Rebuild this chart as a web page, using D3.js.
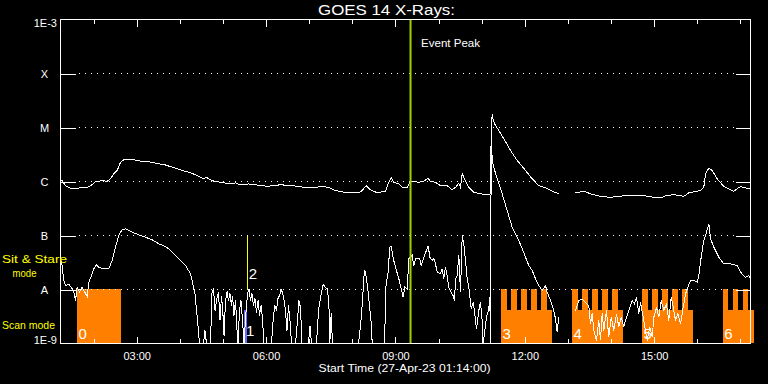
<!DOCTYPE html>
<html><head><meta charset="utf-8">
<script src="https://cdn.jsdelivr.net/npm/d3@7"></script>
<style>
html,body{margin:0;padding:0;background:#000;}
svg{display:block;}
text{font-family:"Liberation Sans",Arial,sans-serif;}
</style></head><body>
<svg id="chart" width="768" height="384"></svg>
<script>
// ---------------- data ----------------
const chartTitle = "GOES 14 X-Rays:";
const xAxisTitle = "Start Time (27-Apr-23 01:14:00)";
const startTime = "2023-04-27T01:14:00Z";
const durationMin = 960;
const levelValues = [1e-9, 1e-8, 1e-7, 1e-6, 1e-5, 1e-4, 1e-3];
const levelLabels = ["1E-9", "A", "B", "C", "M", "X", "1E-3"];
const tickLabels = ["03:00", "06:00", "09:00", "12:00", "15:00"];
const eventPeakMin = 487;
const eventLabel = "Event Peak";

// long channel (1-8 A): [minutes after start, W/m^2]; null = data gap
const longChannel = [
[1.4,1.07e-6],[7.0,8.4e-7],[13.9,7.5e-7],[20.9,7.3e-7],[25.5,7.6e-7],[37.1,7.8e-7],[41.7,8.3e-7],[48.7,9.9e-7],[58.0,1.04e-6],[65.0,1.01e-6],
[69.6,1.12e-6],[74.2,1.39e-6],[78.9,1.6e-6],[83.5,2.28e-6],[88.1,2.52e-6],[102.0,2.52e-6],[113.7,2.35e-6],[127.6,2.28e-6],[134.5,2.13e-6],[143.7,2.07e-6],
[155.4,1.84e-6],[169.3,1.6e-6],[180.9,1.45e-6],[190.2,1.29e-6],[197.1,1.15e-6],[204.1,1.17e-6],[211.1,1.04e-6],[215.7,9.9e-7],[225.0,9.7e-7],[234.2,9.0e-7],
[243.5,9.4e-7],[248.1,8.8e-7],[262.0,9.0e-7],[271.3,8.7e-7],[280.6,8.3e-7],[289.8,8.2e-7],[296.8,8.4e-7],[306.1,8.7e-7],[320.0,8.4e-7],[329.3,8.2e-7],
[338.5,7.8e-7],[352.4,7.6e-7],[364.1,8.2e-7],[373.3,7.7e-7],[382.6,6.8e-7],[398.9,6.2e-7],[415.0,6.2e-7],[419.8,6.8e-7],[425.3,8.4e-7],[431.3,7.0e-7],
[440.6,6.2e-7],[452.2,6.6e-7],[455.4,8.8e-7],[460.1,1.17e-6],[463.7,9.7e-7],[470.7,9.0e-7],[475.4,7.8e-7],[482.4,7.8e-7],[486.0,9.7e-7],[491.5,1.0e-6],
[498.5,9.7e-7],[505.5,1.01e-6],[511.0,1.15e-6],[514.8,1.01e-6],[521.7,9.7e-7],[528.7,8.4e-7],[538.0,8.4e-7],[545.0,7.0e-7],[549.6,7.8e-7],[554.2,9.3e-7],
[556.5,7.8e-7],[558.9,1.39e-6],[562.1,1.12e-6],[568.1,7.8e-7],[575.0,6.3e-7],[584.3,5.9e-7],[595.9,5.7e-7],[598.3,5.9e-7],[599.2,8.8e-6],[600.6,1.79e-5],
[602.0,1.35e-5],[605.2,1.09e-5],[609.8,8.8e-6],[616.8,6.2e-6],[626.1,3.75e-6],[635.4,2.45e-6],[647.0,1.6e-6],[656.3,1.12e-6],[665.5,8.4e-7],[674.8,7.6e-7],
[684.1,6.6e-7],[693.3,5.9e-7],[705.0,null],
[716.5,6.3e-7],[730.4,6.5e-7],[737.4,5.9e-7],[751.3,5.3e-7],[765.2,5.1e-7],[774.5,5.3e-7],[788.4,5.5e-7],
[806.9,5.6e-7],[825.4,5.1e-7],[837.1,5.0e-7],[841.7,5.5e-7],[853.3,5.7e-7],[867.2,5.3e-7],[874.2,6.2e-7],[890.4,6.8e-7],[895.0,7.8e-7],[897.4,1.39e-6],
[902.0,1.76e-6],[906.7,1.6e-6],[913.7,1.12e-6],[922.9,8.1e-7],[936.8,6.6e-7],[946.1,8.1e-7],[953.0,7.6e-7],[959.0,7.3e-7]
];

// short channel (0.5-4 A): [minutes after start, W/m^2]; 0 = below 1E-9, null = data gap
const shortChannel = [
[1.4,3.4e-8],[4.6,1.47e-8],[7.0,1.19e-8],[11.5,1.24e-8],[15.3,1.1e-8],[18.5,8.9e-9],[20.9,6.25e-9],[23.2,1.1e-8],[26.4,8.9e-9],[30.2,1.1e-8],
[33.8,8.9e-9],[37.1,7.4e-9],[39.4,1.37e-8],[43.1,1.82e-8],[46.3,2.42e-8],[49.7,2.87e-8],[53.3,2.59e-8],[60.2,2.42e-8],[67.2,2.42e-8],[71.9,3.44e-8],
[76.5,6.1e-8],[81.1,1.0e-7],[85.8,1.29e-7],[90.4,1.33e-7],[99.8,1.15e-7],[108.9,1.03e-7],[118.3,9.3e-8],[127.6,8.3e-8],[136.8,7.0e-8],[146.1,6.25e-8],
[153.0,5.3e-8],[160.0,4.27e-8],[167.0,3.44e-8],[173.9,2.78e-8],[180.9,1.95e-8],[184.1,1.27e-8],[186.9,8.9e-9],[190.2,3.07e-9],[193.4,0],[199.0,0],
[201.0,1.74e-9],[203.1,0],[208.7,0],[210.8,8.8e-9],[212.9,1.04e-8],[215.0,4.08e-9],[217.0,6.25e-9],[219.8,8.8e-9],[221.9,2.67e-9],[224.0,7.7e-9],
[226.1,3.3e-9],[227.5,1.4e-9],[229.6,6.25e-9],[231.7,9.2e-9],[233.7,6.25e-9],[235.8,8.4e-9],[237.9,5.05e-9],[239.3,7.7e-9],[241.4,3.3e-9],[243.5,6.25e-9],
[245.6,1.74e-9],[247.0,0],[249.0,4.08e-9],[251.1,6.25e-9],[253.2,2.67e-9],[255.3,0],[257.4,2.9e-9],[260.2,8.4e-9],[262.3,1.0e-8],[264.3,6.25e-9],
[266.4,8.4e-9],[268.5,5.05e-9],[270.6,6.8e-9],[272.7,3.75e-9],[274.8,6.25e-9],[276.9,3.3e-9],[279.0,5.05e-9],[281.0,2.9e-9],[283.1,0],[293.6,0],
[296.3,3.3e-9],[298.4,5.05e-9],[300.5,4.08e-9],[302.6,6.8e-9],[304.7,7.7e-9],[306.8,1.0e-8],[308.9,8.8e-9],[311.0,6.25e-9],[313.0,4.08e-9],[315.1,1.74e-9],
[317.2,5.05e-9],[319.3,2.67e-9],[321.4,0],[327.0,0],[329.7,2.67e-9],[331.8,6.25e-9],[333.9,4.6e-9],[336.0,0],[345.0,0],[347.1,2.15e-9],
[349.2,0],[356.2,0],[359.0,4.08e-9],[361.7,7.1e-9],[365.5,1.24e-8],[368.7,1.09e-8],[371.1,1.03e-8],[373.3,6.25e-9],[374.7,0],[376.6,3.6e-9],
[378.4,0],[414.6,0],[418.1,2.67e-9],[420.2,6.25e-9],[422.3,1.82e-8],[423.6,2.25e-8],[425.7,1.6e-8],[427.8,9.6e-9],[429.9,5.05e-9],[432.0,2.67e-9],
[433.7,0],[450.8,0],[452.9,1.19e-8],[455.7,2.07e-8],[458.2,6.1e-8],[460.1,6.25e-8],[462.9,3.75e-8],[466.1,2.59e-8],[470.7,1.58e-8],[474.0,1.03e-8],
[476.8,7.2e-9],[479.0,1.1e-8],[482.4,1.03e-8],[484.6,3.7e-8],[489.3,4.27e-8],[491.5,2.78e-8],[493.9,3.7e-8],[499.9,3.7e-8],[501.8,2.78e-8],[505.5,3.97e-8],
[509.2,5.3e-8],[511.6,6.5e-8],[513.8,3.97e-8],[517.2,3.44e-8],[519.4,3.7e-8],[521.7,2.99e-8],[524.1,2.09e-8],[528.7,1.95e-8],[531.0,2.42e-8],[533.3,1.58e-8],
[535.6,2.59e-8],[538.0,1.82e-8],[540.2,1.1e-8],[543.6,8.9e-9],[546.3,7.7e-9],[548.2,6.25e-9],[549.6,1.58e-8],[551.9,1.82e-8],[554.2,4.27e-8],[556.5,8.9e-9],
[558.9,1.0e-7],[561.1,7.0e-8],[563.5,3.44e-8],[565.8,1.58e-8],[568.1,1.1e-8],[571.4,4.4e-9],[574.2,5.8e-9],[576.0,3.8e-9],[578.8,1.87e-9],[582.0,4.08e-9],
[584.3,5.8e-9],[586.7,2.67e-9],[588.1,0],[589.9,1.53e-9],[592.7,3.07e-9],[595.9,4.4e-9],[597.3,7.2e-9],[598.3,0],[599.2,4.3e-6],[602.0,1.98e-6],
[607.6,1.12e-6],[614.5,5.9e-7],[621.5,2.9e-7],[628.4,1.42e-7],[630.7,1.24e-7],[637.6,8.1e-8],[642.3,5.7e-8],[647.0,3.97e-8],[651.5,2.78e-8],[656.3,2.25e-8],
[660.9,1.58e-8],[665.5,1.19e-8],[670.2,9.6e-9],[674.8,1.19e-8],[677.1,8.9e-9],[681.7,6.25e-9],[686.3,4.08e-9],[688.7,2.87e-9],[691.0,1.62e-9],[693.3,3.07e-9],
[705.0,null],
[716.5,4.08e-9],[721.1,6.25e-9],[725.8,6.7e-9],[730.4,5.8e-9],[735.0,5.05e-9],[737.4,2.3e-9],[739.7,3.6e-9],[742.0,1.74e-9],[745.7,1.14e-9],[748.9,2.67e-9],
[751.3,1.14e-9],[753.6,3.6e-9],[755.9,1.74e-9],[759.6,4.08e-9],[762.8,1.31e-9],[766.2,3.07e-9],[769.8,1.74e-9],[773.6,3.55e-9],[776.8,2.0e-9],[780.1,3.07e-9],
[783.7,2.0e-9],[786.1,2.67e-9],[790.7,4.08e-9],[795.4,6.25e-9],[798.6,5.4e-9],[801.4,7.2e-9],[804.6,3.55e-9],[807.0,5.8e-9],[810.7,3.07e-9],[813.9,1.74e-9],
[816.3,1.14e-9],[819.9,2.0e-9],[823.3,1.31e-9],[825.5,3.07e-9],[829.2,4.7e-9],[832.4,3.07e-9],[835.8,6.25e-9],[839.4,4.08e-9],[843.1,5.4e-9],[846.3,2.67e-9],
[849.7,7.2e-9],[852.5,4.7e-9],[855.7,2.67e-9],[858.9,3.55e-9],[862.6,2.3e-9],[866.4,4.7e-9],[869.6,8.3e-9],[872.8,1.1e-8],[876.5,1.47e-8],[881.1,1.47e-8],
[885.9,1.37e-8],[888.1,1.82e-8],[891.4,3.97e-8],[895.0,8.1e-8],[898.8,1.15e-7],[902.0,1.65e-7],[904.4,8.7e-8],[909.0,6.1e-8],[915.9,3.97e-8],[922.9,2.99e-8],
[932.2,2.99e-8],[941.5,2.78e-8],[946.1,2.09e-8],[953.0,1.69e-8],[957.6,1.82e-8],[960.0,1.58e-8]
];

// observations (minutes after start)
const obsLabels = ["0", "1", "2", "3", "4", "5", "6"];
const obsType   = ["full", "short", "sit", "raster", "raster", "raster", "raster"];
const obsStart  = [23.7, 256.0, 260.6, 613.6, 712.3, 809.7, 922.0];
const obsEnd    = [84.4, 259.8, 260.6, 684.1, 782.9, 880.3, 965.6];
const obsRasters = [0, 0, 0, 5, 5, 5, 3];
const rasterCycleMin = 13.9;
const rasterDwellMin = 7.9;
const modeLabels = ["Sit & Stare", "mode", "Scan mode"];

// ---------------- drawing ----------------
const svg = d3.select("#chart");
svg.append("rect").attr("width", 768).attr("height", 384).attr("fill", "#000");

const t0 = new Date(startTime);
const toDate = m => new Date(t0.getTime() + m * 60000);
const x = d3.scaleUtc().domain([t0, toDate(durationMin)]).range([60.5, 750.5]);
const y = d3.scaleLog().domain([1e-9, 1e-3]).range([343.5, 19.5]);
const L = 60.5, R = 750.5, T = 19.5, B = 343.5;

const ORANGE = "#ff8000", BLUE = "#6b6bff", YELLOW = "#ffff00", GREEN = "#a0d000";
const scanTop = 1e-8, lowTop = 4.1e-9;

// observation blocks
const obsG = svg.append("g").attr("shape-rendering", "crispEdges");
obsStart.forEach((s, i) => {
  const e = obsEnd[i], type = obsType[i];
  const xs = x(toDate(s)) - 0.5, xe = x(toDate(e)) - 0.5;
  if (type === "full") {
    obsG.append("rect").attr("x", xs).attr("y", y(scanTop) - 0.5)
      .attr("width", xe - xs).attr("height", y(1e-9) - y(scanTop)).attr("fill", ORANGE);
  } else if (type === "short") {
    obsG.append("rect").attr("x", xs).attr("y", y(lowTop) - 0.5)
      .attr("width", xe - xs).attr("height", y(1e-9) - y(lowTop)).attr("fill", BLUE);
  } else if (type === "raster") {
    obsG.append("rect").attr("x", xs).attr("y", y(lowTop) - 0.5)
      .attr("width", xe - xs).attr("height", y(1e-9) - y(lowTop)).attr("fill", ORANGE);
    d3.range(obsRasters[i]).forEach(k => {
      const a = x(toDate(s + k * rasterCycleMin)) - 0.5;
      const b = x(toDate(s + k * rasterCycleMin + rasterDwellMin)) - 0.5;
      obsG.append("rect").attr("x", a).attr("y", y(scanTop) - 0.5)
        .attr("width", b - a).attr("height", y(1e-9) - y(scanTop)).attr("fill", ORANGE);
    });
  }
});

// dotted level grid
const gridLevels = levelValues.slice(1, -1);
svg.append("g").selectAll("line").data(gridLevels).join("line")
  .attr("x1", L + 18).attr("x2", R - 15)
  .attr("y1", d => y(d)).attr("y2", d => y(d))
  .attr("stroke", "#fff").attr("stroke-width", 1).attr("stroke-dasharray", "1,5")
  .attr("shape-rendering", "crispEdges");

// curves
const line = d3.line()
  .defined(d => d[1] !== null)
  .x(d => x(toDate(d[0])))
  .y(d => y(Math.max(d[1], 1e-9)));
svg.append("path").datum(shortChannel).attr("d", line)
  .attr("fill", "none").attr("stroke", "#fff").attr("stroke-width", 1)
  .attr("shape-rendering", "crispEdges");
svg.append("path").datum(longChannel).attr("d", line)
  .attr("fill", "none").attr("stroke", "#fff").attr("stroke-width", 1)
  .attr("shape-rendering", "crispEdges");

// sit & stare marker
obsStart.forEach((s, i) => {
  if (obsType[i] === "sit") {
    svg.append("line").attr("x1", x(toDate(s))).attr("x2", x(toDate(s)))
      .attr("y1", y(1e-7)).attr("y2", y(1e-8))
      .attr("stroke", YELLOW).attr("stroke-width", 1).attr("shape-rendering", "crispEdges");
  }
});

// observation numbers
svg.append("g").selectAll("text").data(obsLabels).join("text")
  .attr("x", (d, i) => x(toDate(obsStart[i])) + (obsType[i] === "short" ? 1.5 : 1))
  .attr("y", (d, i) => obsType[i] === "sit" ? 278.5 : (obsType[i] === "short" ? 336 : 338.5))
  .attr("fill", "#fff").attr("font-size", 15).text(d => d);

// event peak
const xp = x(toDate(eventPeakMin));
svg.append("line").attr("x1", xp).attr("x2", xp).attr("y1", T).attr("y2", B)
  .attr("stroke", GREEN).attr("stroke-width", 2);
svg.append("text").attr("x", xp + 10.5).attr("y", 46.5).attr("fill", "#fff")
  .attr("font-size", 11.5).attr("textLength", 59).attr("lengthAdjust", "spacingAndGlyphs")
  .text(eventLabel);

// frame
svg.append("rect").attr("x", L).attr("y", T).attr("width", R - L).attr("height", B - T)
  .attr("fill", "none").attr("stroke", "#fff").attr("stroke-width", 1)
  .attr("shape-rendering", "crispEdges");

// axes
const hoursAll = d3.utcHour.range(toDate(0.001), toDate(durationMin));
const majors = hoursAll.filter(d => d.getUTCHours() % 3 === 0);
function styleAxis(g) {
  g.select(".domain").remove();
  g.selectAll("line").attr("stroke", "#fff").attr("shape-rendering", "crispEdges");
  g.selectAll("text").attr("fill", "#fff").attr("font-size", 11)
    .attr("font-family", "'Liberation Sans', Arial, sans-serif");
}
svg.append("g").attr("transform", `translate(0,${B})`)
  .call(d3.axisBottom(x).tickValues(hoursAll).tickSize(-5).tickFormat(""))
  .call(styleAxis);
svg.append("g").attr("transform", `translate(0,${B})`)
  .call(d3.axisBottom(x).tickValues(majors).tickSize(-7).tickPadding(8.5)
    .tickFormat((d, i) => tickLabels[i]))
  .call(styleAxis);
svg.append("g").attr("transform", `translate(0,${T})`)
  .call(d3.axisTop(x).tickValues(hoursAll).tickSize(-4).tickFormat(""))
  .call(styleAxis);
svg.append("g").attr("transform", `translate(0,${T})`)
  .call(d3.axisTop(x).tickValues(majors).tickSize(-7).tickFormat(""))
  .call(styleAxis);
svg.append("g").attr("transform", `translate(${L},0)`)
  .call(d3.axisLeft(y).tickValues(gridLevels).tickSize(-15).tickFormat(""))
  .call(styleAxis);
svg.append("g").attr("transform", `translate(${R},0)`)
  .call(d3.axisRight(y).tickValues(gridLevels).tickSize(-15).tickFormat(""))
  .call(styleAxis);

// y labels
svg.append("g").selectAll("text").data(levelValues).join("text")
  .attr("x", (d, i) => levelLabels[i].length > 1 ? 57 : 44.5)
  .attr("text-anchor", (d, i) => levelLabels[i].length > 1 ? "end" : "middle")
  .attr("y", (d, i) => i === 0 ? y(d) : (i === levelValues.length - 1 ? y(d) + 7.5 : y(d) + 4))
  .attr("fill", "#fff").attr("font-size", 11)
  .text((d, i) => levelLabels[i]);

// titles
svg.append("text").attr("x", 386.5).attr("y", 15).attr("text-anchor", "middle")
  .attr("fill", "#fff").attr("font-size", 14)
  .attr("textLength", 137).attr("lengthAdjust", "spacingAndGlyphs").text(chartTitle);
svg.append("text").attr("x", 404.5).attr("y", 371.5).attr("text-anchor", "middle")
  .attr("fill", "#fff").attr("font-size", 11)
  .attr("textLength", 172).attr("lengthAdjust", "spacingAndGlyphs").text(xAxisTitle);

// mode labels
const modePos = [[2, 263, 65], [12.5, 276.5, 24], [2, 328.5, 53]];
svg.append("g").selectAll("text").data(modeLabels).join("text")
  .attr("x", (d, i) => modePos[i][0]).attr("y", (d, i) => modePos[i][1])
  .attr("textLength", (d, i) => modePos[i][2]).attr("lengthAdjust", "spacingAndGlyphs")
  .attr("fill", YELLOW).attr("font-size", 11).text(d => d);
</script>
</body></html>
